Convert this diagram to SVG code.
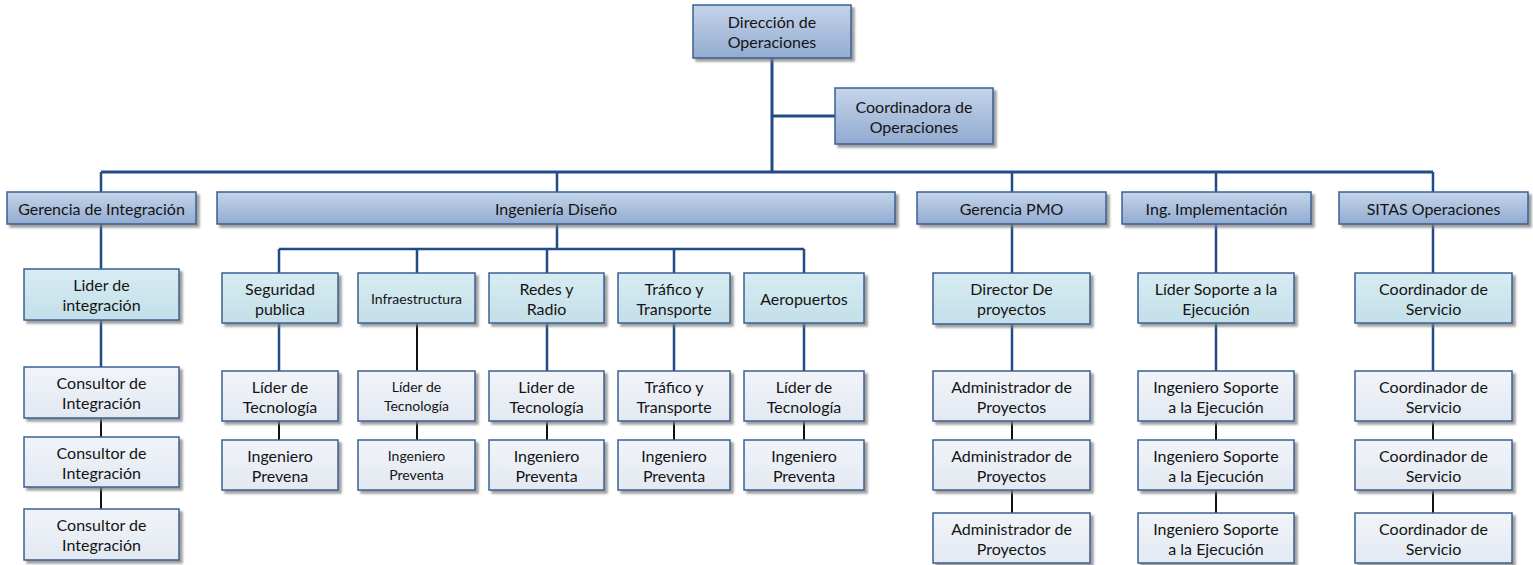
<svg xmlns="http://www.w3.org/2000/svg" width="1533" height="565" viewBox="0 0 1533 565">
<defs>
<linearGradient id="g1" x1="0" y1="0" x2="0" y2="1"><stop offset="0" stop-color="#C5D4EA"/><stop offset="1" stop-color="#92ABD0"/></linearGradient>
<linearGradient id="g2" x1="0" y1="0" x2="0" y2="1"><stop offset="0" stop-color="#D8ECF2"/><stop offset="1" stop-color="#C3DFE9"/></linearGradient>
<linearGradient id="g3" x1="0" y1="0" x2="0" y2="1"><stop offset="0" stop-color="#F1F4F9"/><stop offset="1" stop-color="#E3E9F2"/></linearGradient>
<filter id="sh" x="-10%" y="-20%" width="130%" height="150%"><feDropShadow dx="3" dy="3" stdDeviation="0.8" flood-color="#7F7F7F" flood-opacity="0.75"/></filter>
<style>
.n rect{stroke:#3A5F93;stroke-width:1.5;filter:url(#sh)}
.l1 rect{fill:url(#g1)}
.l2 rect{fill:url(#g2)}
.l3 rect{fill:url(#g3)}
text{font-family:Lato,"Open Sans","Liberation Sans",sans-serif;font-size:16px;fill:#141414;text-anchor:middle;dominant-baseline:central}
text.s{font-size:14px}
.b{stroke:#234C86;stroke-width:2.5;fill:none}
.m{stroke:#234C86;stroke-width:3;fill:none}
.k{stroke:#111;stroke-width:2;fill:none}
</style>
</defs>
<g id="connectors">
<path class="m" d="M772 58V172M772 116H835M101 172H1433"/>
<path class="b" d="M101 172V192M557 172V192M1012 172V192M1216 172V192M1433 172V192"/>
<path class="b" d="M101 224V269M101 320V367"/>
<path class="k" d="M101 418V437M101 487V509"/>
<path class="b" d="M557 224V249M279 249H804M279 249V273M417 249V273M547 249V273M674 249V273M804 249V273"/>
<path class="b" d="M279 323V371M547 323V371M674 323V371M804 323V371"/>
<path class="k" d="M417 323V371"/>
<path class="k" d="M279 421V440M417 421V440M547 421V440M674 421V440M804 421V440"/>
<path class="b" d="M1012 224V273M1012 324V371M1216 224V273M1216 323V371M1433 224V273M1433 323V371"/>
<path class="k" d="M1012 421V440M1012 490V513M1216 421V440M1216 490V513M1433 421V440M1433 490V513"/>
</g>
<g id="dir" class="n l1"><rect x="693" y="5" width="158" height="53"/><text x="772" y="21.5">Dirección de</text><text x="772" y="41.5">Operaciones</text></g>
<g id="coord" class="n l1"><rect x="835" y="88" width="158" height="56"/><text x="914" y="106">Coordinadora de</text><text x="914" y="126">Operaciones</text></g>
<g id="ger_int" class="n l1"><rect x="7" y="192" width="189" height="32"/><text x="101.5" y="208">Gerencia de Integración</text></g>
<g id="ing_dis" class="n l1"><rect x="217" y="192" width="678" height="32"/><text x="556" y="208">Ingeniería Diseño</text></g>
<g id="ger_pmo" class="n l1"><rect x="917" y="192" width="189" height="32"/><text x="1011.5" y="208">Gerencia PMO</text></g>
<g id="ing_impl" class="n l1"><rect x="1122" y="192" width="189" height="32"/><text x="1216.5" y="208">Ing. Implementación</text></g>
<g id="sitas" class="n l1"><rect x="1339" y="192" width="189" height="32"/><text x="1433.5" y="208">SITAS Operaciones</text></g>
<g id="lider_int" class="n l2"><rect x="24" y="269" width="155" height="51"/><text x="101.5" y="284.5">Lider de</text><text x="101.5" y="304.5">integración</text></g>
<g id="seg" class="n l2"><rect x="222" y="273" width="116" height="50"/><text x="280" y="288">Seguridad</text><text x="280" y="308">publica</text></g>
<g id="infra" class="n l2"><rect x="358" y="273" width="117" height="50"/><text class="s" x="416.5" y="298">Infraestructura</text></g>
<g id="redes" class="n l2"><rect x="489" y="273" width="115" height="50"/><text x="546.5" y="288">Redes y</text><text x="546.5" y="308">Radio</text></g>
<g id="trafico" class="n l2"><rect x="618" y="273" width="112" height="50"/><text x="674" y="288">Tráfico y</text><text x="674" y="308">Transporte</text></g>
<g id="aero" class="n l2"><rect x="744" y="273" width="120" height="50"/><text x="804" y="298">Aeropuertos</text></g>
<g id="director" class="n l2"><rect x="933" y="273" width="157" height="51"/><text x="1011.5" y="288.5">Director De</text><text x="1011.5" y="308.5">proyectos</text></g>
<g id="lider_sop" class="n l2"><rect x="1138" y="273" width="156" height="50"/><text x="1216" y="288">Líder Soporte a la</text><text x="1216" y="308">Ejecución</text></g>
<g id="coord_serv" class="n l2"><rect x="1355" y="273" width="157" height="50"/><text x="1433.5" y="288">Coordinador de</text><text x="1433.5" y="308">Servicio</text></g>
<g id="cons1" class="n l3"><rect x="24" y="367" width="155" height="51"/><text x="101.5" y="382.5">Consultor de</text><text x="101.5" y="402.5">Integración</text></g>
<g id="cons2" class="n l3"><rect x="24" y="437" width="155" height="50"/><text x="101.5" y="452">Consultor de</text><text x="101.5" y="472">Integración</text></g>
<g id="cons3" class="n l3"><rect x="24" y="509" width="155" height="51"/><text x="101.5" y="524.5">Consultor de</text><text x="101.5" y="544.5">Integración</text></g>
<g id="lt_seg" class="n l3"><rect x="222" y="371" width="116" height="50"/><text x="280" y="386">Líder de</text><text x="280" y="406">Tecnología</text></g>
<g id="ip_seg" class="n l3"><rect x="222" y="440" width="116" height="50"/><text x="280" y="455">Ingeniero</text><text x="280" y="475">Prevena</text></g>
<g id="lt_infra" class="n l3"><rect x="358" y="371" width="117" height="50"/><text class="s" x="416.5" y="386.5">Líder de</text><text class="s" x="416.5" y="405.5">Tecnología</text></g>
<g id="ip_infra" class="n l3"><rect x="358" y="440" width="117" height="50"/><text class="s" x="416.5" y="455.5">Ingeniero</text><text class="s" x="416.5" y="474.5">Preventa</text></g>
<g id="lt_redes" class="n l3"><rect x="489" y="371" width="115" height="50"/><text x="546.5" y="386">Lider de</text><text x="546.5" y="406">Tecnología</text></g>
<g id="ip_redes" class="n l3"><rect x="489" y="440" width="115" height="50"/><text x="546.5" y="455">Ingeniero</text><text x="546.5" y="475">Preventa</text></g>
<g id="tt" class="n l3"><rect x="618" y="371" width="112" height="50"/><text x="674" y="386">Tráfico y</text><text x="674" y="406">Transporte</text></g>
<g id="ip_traf" class="n l3"><rect x="618" y="440" width="112" height="50"/><text x="674" y="455">Ingeniero</text><text x="674" y="475">Preventa</text></g>
<g id="lt_aero" class="n l3"><rect x="744" y="371" width="120" height="50"/><text x="804" y="386">Líder de</text><text x="804" y="406">Tecnología</text></g>
<g id="ip_aero" class="n l3"><rect x="744" y="440" width="120" height="50"/><text x="804" y="455">Ingeniero</text><text x="804" y="475">Preventa</text></g>
<g id="admin1" class="n l3"><rect x="933" y="371" width="157" height="50"/><text x="1011.5" y="386">Administrador de</text><text x="1011.5" y="406">Proyectos</text></g>
<g id="admin2" class="n l3"><rect x="933" y="440" width="157" height="50"/><text x="1011.5" y="455">Administrador de</text><text x="1011.5" y="475">Proyectos</text></g>
<g id="admin3" class="n l3"><rect x="933" y="513" width="157" height="50"/><text x="1011.5" y="528">Administrador de</text><text x="1011.5" y="548">Proyectos</text></g>
<g id="ise1" class="n l3"><rect x="1138" y="371" width="156" height="50"/><text x="1216" y="386">Ingeniero Soporte</text><text x="1216" y="406">a la Ejecución</text></g>
<g id="ise2" class="n l3"><rect x="1138" y="440" width="156" height="50"/><text x="1216" y="455">Ingeniero Soporte</text><text x="1216" y="475">a la Ejecución</text></g>
<g id="ise3" class="n l3"><rect x="1138" y="513" width="156" height="50"/><text x="1216" y="528">Ingeniero Soporte</text><text x="1216" y="548">a la Ejecución</text></g>
<g id="cs1" class="n l3"><rect x="1355" y="371" width="157" height="50"/><text x="1433.5" y="386">Coordinador de</text><text x="1433.5" y="406">Servicio</text></g>
<g id="cs2" class="n l3"><rect x="1355" y="440" width="157" height="50"/><text x="1433.5" y="455">Coordinador de</text><text x="1433.5" y="475">Servicio</text></g>
<g id="cs3" class="n l3"><rect x="1355" y="513" width="157" height="50"/><text x="1433.5" y="528">Coordinador de</text><text x="1433.5" y="548">Servicio</text></g>
</svg>
